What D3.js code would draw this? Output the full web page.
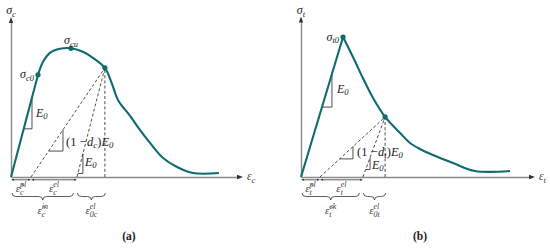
<!DOCTYPE html>
<html><head><meta charset="utf-8">
<script src="https://cdn.jsdelivr.net/npm/d3@7"></script>
<style>
body{margin:0;background:#fff}
svg{display:block}
text{font-family:"Liberation Serif","DejaVu Serif",serif}
</style>
</head><body>
<svg id="c" width="550" height="248"></svg>
<script>
// ---------- DATA ----------
// Panel (a): compressive stress-strain curve (normalised units)
const compStrain = [0, 1.18, 1.40, 1.70, 2.14, 2.62, 3.14, 3.58, 4.10, 4.41, 4.67, 5.20, 5.63, 6.07, 6.64, 7.25, 7.95, 9.08];
const compStress = [0, 0.794, 0.895, 0.965, 0.996, 1.0, 0.973, 0.926, 0.848, 0.724, 0.599, 0.475, 0.366, 0.265, 0.148, 0.078, 0.031, 0.031];
const compMarked = [1, 5, 8];            // sigma_c0, sigma_cu, unloading point
const compParts = [0.873, 2.88];         // plastic strain, end of elastic strain
// Panel (b): tensile stress-strain curve
const tensStrain = [0, 1.82, 2.25, 2.68, 3.12, 3.64, 4.29, 4.72, 5.15, 5.71, 6.58, 7.53, 9.05];
const tensStress = [0, 1.0, 0.857, 0.707, 0.564, 0.429, 0.314, 0.243, 0.2, 0.157, 0.1, 0.043, 0.043];
const tensMarked = [1, 5];
const tensParts = [0.82, 2.68];

// ---------- DRAW ----------
const svg = d3.select('#c');
const teal = '#0f6b6d';
const axisCol = '#8a8a8a';
const ink = '#222';

const defs = svg.append('defs');
defs.append('marker').attr('id','ah').attr('viewBox','0 0 6 6').attr('refX',6).attr('refY',3)
  .attr('markerWidth',3.5).attr('markerHeight',3.5).attr('orient','auto-start-reverse')
  .append('path').attr('d','M0,0.5 L6,3 L0,5.5 Z').attr('fill','#333');

function mlabel(g, x, y, parts, anchor, col) {
  const grp = g.append('g');
  let cx = 0;
  parts.forEach(p => {
    if (p.t !== undefined) {
      const t = grp.append('text').attr('x', cx).attr('y', (p.dy||0)).text(p.t)
        .attr('font-size', p.size).attr('font-style', p.i ? 'italic' : 'normal').attr('fill', col||ink);
      cx += t.node().getComputedTextLength() + (p.pad||0);
    } else {
      let w = 0;
      if (p.sup) { const t = grp.append('text').attr('x', cx).attr('y', p.supDy||-5).text(p.sup)
          .attr('font-size', p.size).attr('font-style','italic').attr('fill', col||ink);
        w = Math.max(w, t.node().getComputedTextLength()); }
      if (p.sub) { const t = grp.append('text').attr('x', cx).attr('y', p.subDy||3).text(p.sub)
          .attr('font-size', p.size).attr('font-style','italic').attr('fill', col||ink);
        w = Math.max(w, t.node().getComputedTextLength()); }
      cx += w + (p.pad||0);
    }
  });
  const off = anchor === 'end' ? -cx : anchor === 'middle' ? -cx/2 : 0;
  grp.attr('transform', `translate(${x+off},${y})`);
  return grp;
}

function brace(x1, x2, y, h) {
  const m = (x1+x2)/2, q = Math.min(4, (x2-x1)/4), hh = h/2;
  return `M${x1},${y} Q${x1},${y+hh} ${x1+q},${y+hh} L${m-q},${y+hh} Q${m},${y+hh} ${m},${y+h}` +
         ` Q${m},${y+hh} ${m+q},${y+hh} L${x2-q},${y+hh} Q${x2},${y+hh} ${x2},${y}`;
}

function panel(cfg) {
  const g = svg.append('g');
  const x = d3.scaleLinear().domain([0, 10]).range([cfg.left, cfg.right]);
  const y = d3.scaleLinear().domain([0, cfg.ymax]).range([cfg.bottom, cfg.top]);
  const pts = cfg.strain.map((s, k) => [s, cfg.stress[k]]);

  const ax = g.append('g').attr('transform', `translate(0,${cfg.bottom})`)
    .call(d3.axisBottom(x).ticks(0).tickSizeOuter(0));
  const ay = g.append('g').attr('transform', `translate(${cfg.left},0)`)
    .call(d3.axisLeft(y).ticks(0).tickSizeOuter(0));
  [ax, ay].forEach(a => a.select('.domain').attr('stroke', axisCol).attr('stroke-width', 1.4));
  g.append('path').attr('d', `M${cfg.right+3},${cfg.bottom} L${cfg.right-3},${cfg.bottom-2.2} L${cfg.right-3},${cfg.bottom+2.2} Z`).attr('fill','#333');
  g.append('path').attr('d', `M${cfg.left},${cfg.top-3} L${cfg.left-2.2},${cfg.top+3} L${cfg.left+2.2},${cfg.top+3} Z`).attr('fill','#333');

  const P = pts[cfg.marked[cfg.marked.length-1]];
  const line = d3.line().x(d => x(d[0])).y(d => y(d[1]));

  [cfg.parts[0], cfg.parts[1], P[0]].forEach(s => {
    g.append('path').attr('d', line([[s, 0], P])).attr('stroke', ink).attr('stroke-width', 0.8)
      .attr('stroke-dasharray', '3,2.2').attr('fill', 'none');
  });

  function tri(a, b, x1, x2) {
    const f = xx => a[1] + (b[1]-a[1]) * (xx-a[0]) / (b[0]-a[0]);
    g.append('path').attr('d', `M${x(x1)},${y(f(x1))} L${x(x2)},${y(f(x1))} L${x(x2)},${y(f(x2))}`)
      .attr('stroke', ink).attr('stroke-width', 0.8).attr('fill', 'none');
  }
  tri(pts[0], pts[1], cfg.tri0[0], cfg.tri0[1]);
  tri([cfg.parts[0], 0], P, cfg.tri1[0], cfg.tri1[1]);
  tri([cfg.parts[1], 0], P, cfg.tri2[0], cfg.tri2[1]);

  g.append('path').attr('d', line(pts.slice(0, 2))).attr('stroke', teal).attr('stroke-width', 2.1).attr('fill','none');
  const curved = d3.line().x(d => x(d[0])).y(d => y(d[1])).curve(d3.curveCatmullRom.alpha(0.5));
  g.append('path').attr('d', curved(pts.slice(1))).attr('stroke', teal)
    .attr('stroke-width', 2.1).attr('fill','none').attr('stroke-linejoin','round');
  cfg.marked.forEach(k => g.append('circle').attr('cx', x(pts[k][0])).attr('cy', y(pts[k][1])).attr('r', 2.6).attr('fill', teal));

  const ya = cfg.bottom + 2.8;
  [[0, cfg.parts[0]], [cfg.parts[0], cfg.parts[1]]].forEach(([a, b]) => {
    g.append('line').attr('x1', x(a)+0.5).attr('x2', x(b)-0.5).attr('y1', ya).attr('y2', ya)
      .attr('stroke', '#333').attr('stroke-width', 0.8)
      .attr('marker-start', 'url(#ah)').attr('marker-end', 'url(#ah)');
  });
  const yb = cfg.bottom + 16;
  const b1 = [x(0)+1, x(cfg.parts[1])-3.5], b2 = [x(cfg.parts[1])+0.5, x(P[0])+0.5];
  [b1, b2].forEach(([a, b]) => g.append('path').attr('d', brace(a, b, yb, 7)).attr('stroke', '#333')
    .attr('stroke-width', 0.8).attr('fill', 'none'));

  const s = cfg.sym, lc = '#444';
  const eps = (tilde) => tilde ? 'ε\u0303' : 'ε';
  mlabel(g, (x(0)+x(cfg.parts[0]))/2, cfg.bottom+15, [{t: eps(true), i: true, size: 11}, {sup: 'pl', sub: s, size: 8}], 'middle', lc);
  mlabel(g, (x(cfg.parts[0])+x(cfg.parts[1]))/2, cfg.bottom+15, [{t: eps(false), i: true, size: 11}, {sup: 'el', sub: s, size: 8}], 'middle', lc);
  mlabel(g, (b1[0]+b1[1])/2, cfg.bottom+37, [{t: eps(true), i: true, size: 11}, {sup: cfg.inel, sub: s, size: 8}], 'middle', lc);
  mlabel(g, (b2[0]+b2[1])/2, cfg.bottom+37, [{t: eps(false), i: true, size: 11}, {sup: 'el', sub: '0' + s, size: 8}], 'middle', lc);

  mlabel(g, cfg.left, 14, [{t: 'σ', i: true, size: 12}, {sub: s, size: 8.5, subDy: 2.5}], 'middle');
  mlabel(g, cfg.right + 7, cfg.bottom + 3, [{t: eps(false), i: true, size: 11.5}, {sub: s, size: 8.5, subDy: 2.5}], 'start', lc);

  cfg.pointLabels.forEach(pl => {
    const p = pts[pl.k];
    const lx = pl.anchor === 'end' ? x(p[0]) - 4 : x(p[0]);
    const ly = pl.anchor === 'end' ? y(p[1]) + 3.5 : y(p[1]) - 4;
    mlabel(g, lx, ly, [{t: 'σ', i: true, size: 12}, {sub: pl.sub, size: 8.5, subDy: 2.5}], pl.anchor);
  });

  const E0 = (size) => [{t: 'E', i: true, size: size}, {sub: '0', size: size*0.72, subDy: 2.2}];
  mlabel(g, cfg.e0Big[0], cfg.e0Big[1], E0(12), 'start');
  mlabel(g, cfg.e0Small[0], cfg.e0Small[1], E0(12), 'start');
  mlabel(g, cfg.dLab[0], cfg.dLab[1], [
    {t: '(1 − ', size: 12.5, pad: 0.5}, {t: 'd', i: true, size: 12.5}, {sub: s, size: 8.8, subDy: 2.4},
    {t: ')', size: 12.5}, {t: 'E', i: true, size: 12.5}, {sub: '0', size: 8.8, subDy: 2.4}], 'start');

  g.append('text').attr('x', cfg.panelX).attr('y', 240).attr('text-anchor', 'middle')
    .attr('font-size', 11.5).attr('font-weight', 'bold').attr('fill', ink).text(cfg.panel);
}

panel({strain: compStrain, stress: compStress, marked: compMarked, parts: compParts,
  left: 11, right: 240, bottom: 177, top: 20, ymax: 1.22, sym: 'c', inel: 'in',
  tri0: [0.556, 0.917], tri1: [1.64, 2.27], tri2: [2.92, 3.14],
  pointLabels: [{k: 1, sub: 'c0', anchor: 'end'}, {k: 5, sub: 'cu', anchor: 'middle'}],
  e0Big: [36, 117], e0Small: [85, 166], dLab: [66, 146], panel: '(a)', panelX: 129});
panel({strain: tensStrain, stress: tensStress, marked: tensMarked, parts: tensParts,
  left: 301, right: 532, bottom: 177, top: 19.4, ymax: 1.126, sym: 't', inel: 'ck',
  tri0: [0.909, 1.34], tri1: [1.67, 2.25], tri2: [2.80, 2.99],
  pointLabels: [{k: 1, sub: 't0', anchor: 'end'}],
  e0Big: [337, 93], e0Small: [372, 169], dLab: [357, 156], panel: '(b)', panelX: 420});
</script>
</body></html>
